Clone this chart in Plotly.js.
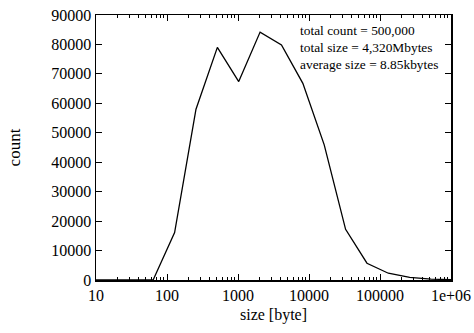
<!DOCTYPE html>
<html>
<head>
<meta charset="utf-8">
<script src="https://cdn.plot.ly/plotly-3.0.1.min.js"></script>
<style>html,body{margin:0;padding:0;background:#fff;}#chart{width:474px;height:333px;}</style>
</head>
<body>
<div id="chart"></div>
<script>
const sizes = [10, 16, 32, 64, 128, 256, 512, 1024, 2048, 4096, 8192, 16384, 32768, 65536, 131072, 262144, 524288, 1048576];
const counts = [0, 50, 200, 100, 16100, 58000, 79000, 67400, 84200, 79800, 66800, 45900, 17200, 5700, 2300, 900, 300, 100];
const xTickVals = [10, 100, 1000, 10000, 100000, 1000000];
const xTickText = ['10', '100', '1000', '10000', '100000', '1e+06'];
const noteLines = ['total count = 500,000', 'total size = 4,320Mbytes', 'average size = 8.85kbytes'];

const minorVals = [];
for (let d = 10; d < 1e6; d *= 10) for (let k = 2; k <= 9; k++) minorVals.push(d * k);

const font = {family: '"Liberation Serif", "Times New Roman", serif', color: '#000'};

Plotly.newPlot('chart', [{
  x: sizes, y: counts, type: 'scatter', mode: 'lines',
  line: {color: '#000', width: 1.3}, hoverinfo: 'skip'
}], {
  width: 474, height: 333,
  margin: {l: 96, r: 23, t: 15, b: 53},
  paper_bgcolor: '#fff', plot_bgcolor: '#fff',
  showlegend: false,
  font: Object.assign({size: 16}, font),
  xaxis: {
    type: 'log', range: [1, 6],
    tickmode: 'array', tickvals: xTickVals, ticktext: xTickText,
    ticks: 'inside', ticklen: 6, tickwidth: 1, tickcolor: '#000',
    minor: {tickmode: 'array', tickvals: minorVals, ticks: 'inside', ticklen: 3, tickcolor: '#000', showgrid: false},
    showline: true, linecolor: '#000', linewidth: 1.5, mirror: 'allticks',
    showgrid: false, zeroline: false,
    tickfont: Object.assign({size: 16}, font),
    title: {text: 'size [byte]', font: Object.assign({size: 16}, font), standoff: 6}
  },
  yaxis: {
    range: [0, 90000], dtick: 10000, tick0: 0, tickformat: 'd',
    ticks: 'inside', ticklen: 6, tickwidth: 1, tickcolor: '#000',
    showline: true, linecolor: '#000', linewidth: 1.5, mirror: 'allticks',
    showgrid: false, zeroline: false,
    tickfont: Object.assign({size: 16}, font),
    title: {text: 'count', font: Object.assign({size: 17}, font), standoff: 26}
  },
  annotations: noteLines.map((t, i) => ({
    text: t, xref: 'paper', yref: 'paper', x: 0.568, y: 0.94 - i * 0.063,
    xanchor: 'left', yanchor: 'middle', showarrow: false,
    font: Object.assign({size: 13.4}, font)
  }))
}, {staticPlot: true});
</script>
</body>
</html>
